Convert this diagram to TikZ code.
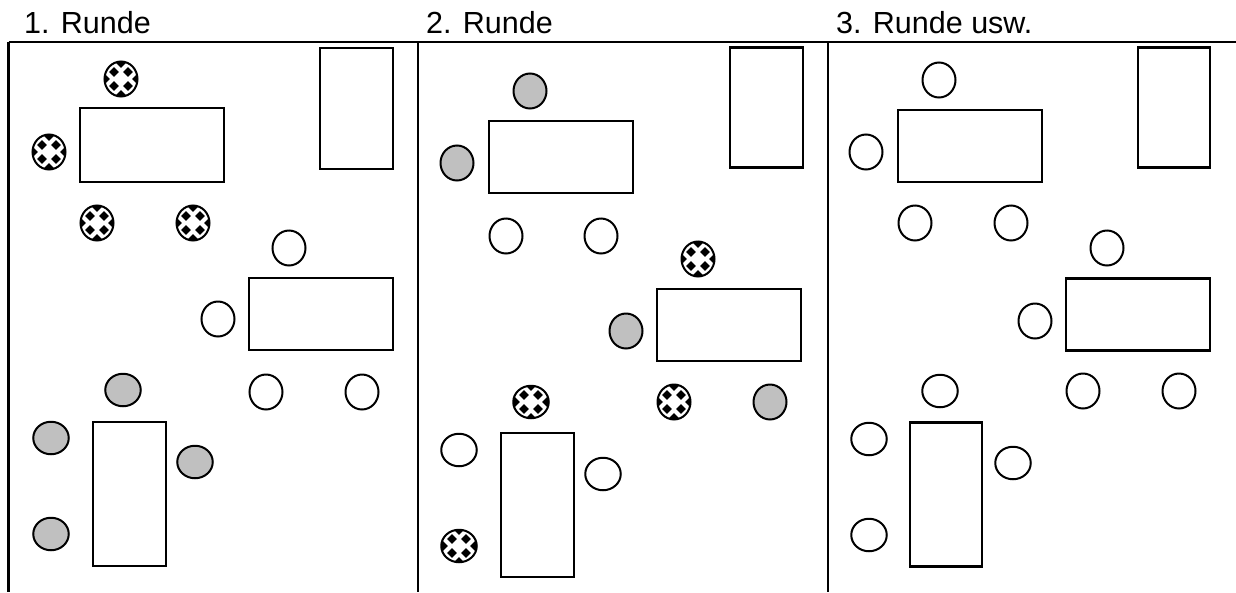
\documentclass[tikz,border=0pt]{standalone}
\usepackage{fontspec}
\setmainfont{Liberation Sans}
\usetikzlibrary{shapes.geometric}
\definecolor{seatgrey}{HTML}{C0C0C0}
\tikzset{
  seat/.style={ellipse, draw=black, line width=2pt, inner sep=0pt, outer sep=0pt, fill=white},
  tall/.style={seat, minimum width=33pt, minimum height=35pt},
  wide/.style={seat, minimum width=35.5pt, minimum height=32.5pt},
  grey/.style={fill=seatgrey},
  ball/.style={path picture={
    \begin{scope}[shift={(path picture bounding box.center)}]
      \foreach \cx/\cy in {7/7,-7/7,7/-7,-7/-7,0/16,0/-16,16/0,-16/0}
        \fill[black] (\cx-4.8,\cy) -- (\cx,\cy+4.8) -- (\cx+4.8,\cy) -- (\cx,\cy-4.8) -- cycle;
    \end{scope}}},
  tablebox/.style={draw=black, line width=2.1pt, inner sep=0pt, outer sep=0pt, anchor=north west},
  frame/.style={line width=2.2pt},
  title/.style={anchor=base west, inner sep=0pt, font=\fontsize{30.5}{36}\selectfont}
}
\begin{document}
\begin{tikzpicture}[x=1pt,y=-1pt]
\useasboundingbox (0,0) rectangle (1236,592);
% headers
\node[title] (h1) at (24,33) {1. Runde};
\node[title] (h2) at (426,33) {2. Runde};
\node[title] (h3) at (836,33) {3. Runde usw.};
% frame
\coordinate (ftl) at (8.5,42);
\coordinate (ftr) at (1236,42);
\coordinate (fb1) at (8.5,592);
\coordinate (ft2) at (418,42);
\coordinate (fb2) at (418,592);
\coordinate (ft3) at (828,42);
\coordinate (fb3) at (828,592);
\draw[frame] (ftl) -- (ftr);
\draw[frame] (ftl) -- (fb1);
\draw[frame] (ft2) -- (fb2);
\draw[frame] (ft3) -- (fb3);

% ===== Panel 1 =====
\node[tablebox, minimum width=144pt, minimum height=74pt] (a1) at (80,108) {};
\node[tablebox, minimum width=73pt, minimum height=121pt] (ar) at (320,48) {};
\node[tablebox, minimum width=144pt, minimum height=72pt] (a2) at (249,278) {};
\node[tablebox, minimum width=73pt, minimum height=144pt] (a3) at (93,422) {};
\node[tall, ball] (p1s1) at (121,79) {};
\node[tall, ball] (p1s2) at (49,152) {};
\node[tall, ball] (p1s3) at (97,223) {};
\node[tall, ball] (p1s4) at (193,223) {};
\node[tall] (p1t1) at (289,248) {};
\node[tall] (p1t2) at (218,319) {};
\node[tall] (p1t3) at (266,392) {};
\node[tall] (p1t4) at (362,392) {};
\node[wide, grey] (p1u1) at (123,390) {};
\node[wide, grey] (p1u2) at (51,438) {};
\node[wide, grey] (p1u3) at (195,462) {};
\node[wide, grey] (p1u4) at (51,534) {};

% ===== Panel 2 =====
\node[tablebox, minimum width=144pt, minimum height=72pt] (b1) at (489,121) {};
\node[tablebox, minimum width=73pt, minimum height=120pt] (br) at (730,47.5) {};
\node[tablebox, minimum width=144pt, minimum height=72pt] (b2) at (657,289) {};
\node[tablebox, minimum width=73pt, minimum height=144pt] (b3) at (501,433) {};
\node[tall, grey] (p2s1) at (530,91) {};
\node[tall, grey] (p2s2) at (457,163) {};
\node[tall] (p2s3) at (506,236) {};
\node[tall] (p2s4) at (601,236) {};
\node[tall, ball] (p2t1) at (698,259) {};
\node[tall, grey] (p2t2) at (626,331) {};
\node[wide, ball] (p2t3) at (531,402) {};
\node[tall, ball] (p2t4) at (674,402) {};
\node[tall, grey] (p2t5) at (770,402) {};
\node[wide] (p2u2) at (459,450) {};
\node[wide] (p2u3) at (603,474) {};
\node[wide, ball] (p2u4) at (459,546) {};

% ===== Panel 3 =====
\node[tablebox, minimum width=144pt, minimum height=72pt] (c1) at (898,110) {};
\node[tablebox, minimum width=72pt, minimum height=120pt] (cr) at (1138,47.5) {};
\node[tablebox, minimum width=144pt, minimum height=72pt] (c2) at (1066,278.5) {};
\node[tablebox, minimum width=72pt, minimum height=144pt] (c3) at (910,422.5) {};
\node[tall] (p3s1) at (939,80) {};
\node[tall] (p3s2) at (866,152) {};
\node[tall] (p3s3) at (915,223) {};
\node[tall] (p3s4) at (1011,223) {};
\node[tall] (p3t1) at (1107,248) {};
\node[tall] (p3t2) at (1035,321) {};
\node[wide] (p3t3) at (940,391) {};
\node[tall] (p3t4) at (1083,391) {};
\node[tall] (p3t5) at (1179,391) {};
\node[wide] (p3u2) at (869,439) {};
\node[wide] (p3u3) at (1013,463) {};
\node[wide] (p3u4) at (869,535) {};
\end{tikzpicture}
\end{document}
